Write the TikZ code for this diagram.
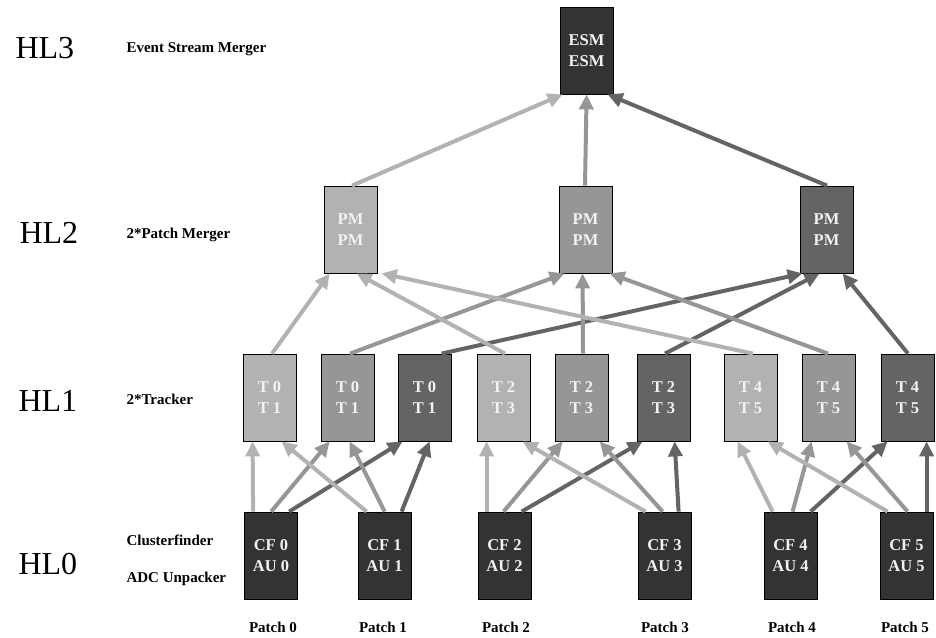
\documentclass[tikz,border=0pt]{standalone}
\usepackage{fontspec}
\setmainfont{Liberation Serif}
\usetikzlibrary{arrows.meta}
\definecolor{boxdark}{HTML}{333333}
\definecolor{glight}{HTML}{B2B2B2}
\definecolor{gmid}{HTML}{969696}
\definecolor{gdark}{HTML}{646464}
\definecolor{boxtext}{HTML}{F2F2F2}
\tikzset{
  unit/.style={draw=black, line width=0.8pt, rectangle, minimum width=53pt, minimum height=87pt,
    inner sep=0pt, align=center, text=boxtext, font=\fontsize{16.5}{21}\selectfont\bfseries},
  lvl/.style={anchor=base west, font=\fontsize{32}{32}\selectfont},
  desc/.style={anchor=base west, font=\fontsize{15}{15}\selectfont\bfseries},
  patch/.style={anchor=base, font=\fontsize{15}{15}\selectfont\bfseries},
  conn/.style={line width=4pt, -{Triangle[length=15pt,width=14pt]}},
  lt/.style={conn, draw=glight},
  md/.style={conn, draw=gmid},
  dk/.style={conn, draw=gdark}
}
\begin{document}
\begin{tikzpicture}[x=1pt,y=-1pt]
\useasboundingbox (0,0) rectangle (936,637);
% level labels
\node[lvl] (hl3) at (12,58) {HL3};
\node[lvl] (hl2) at (16,243) {HL2};
\node[lvl] (hl1) at (15,411) {HL1};
\node[lvl] (hl0) at (15,574) {HL0};
\node[desc] (d3) at (123,52) {Event Stream Merger};
\node[desc] (d2) at (123,238) {2*Patch Merger};
\node[desc] (d1) at (123,404) {2*Tracker};
\node[desc] (d0a) at (123,545) {Clusterfinder};
\node[desc] (d0b) at (123,582) {ADC Unpacker};
% boxes
\node[unit, fill=boxdark] (esm) at (586.5,50.5) {ESM\\ESM};
\node[unit, fill=glight] (pm1) at (350.5,229.5) {PM\\PM};
\node[unit, fill=gmid] (pm2) at (585.5,229.5) {PM\\PM};
\node[unit, fill=gdark] (pm3) at (826.5,229.5) {PM\\PM};
\node[unit, fill=glight] (t1) at (269.5,397.5) {T 0\\T 1};
\node[unit, fill=gmid] (t2) at (347.5,397.5) {T 0\\T 1};
\node[unit, fill=gdark] (t3) at (424.5,397.5) {T 0\\T 1};
\node[unit, fill=glight] (t4) at (503.5,397.5) {T 2\\T 3};
\node[unit, fill=gmid] (t5) at (581.5,397.5) {T 2\\T 3};
\node[unit, fill=gdark] (t6) at (663.5,397.5) {T 2\\T 3};
\node[unit, fill=glight] (t7) at (750.5,397.5) {T 4\\T 5};
\node[unit, fill=gmid] (t8) at (828.5,397.5) {T 4\\T 5};
\node[unit, fill=gdark] (t9) at (907.5,397.5) {T 4\\T 5};
\node[unit, fill=boxdark] (cf0) at (271,555.5) {CF 0\\AU 0};
\node[unit, fill=boxdark] (cf1) at (384.5,555.5) {CF 1\\AU 1};
\node[unit, fill=boxdark] (cf2) at (504.5,555.5) {CF 2\\AU 2};
\node[unit, fill=boxdark] (cf3) at (664.5,555.5) {CF 3\\AU 3};
\node[unit, fill=boxdark] (cf4) at (790.5,555.5) {CF 4\\AU 4};
\node[unit, fill=boxdark] (cf5) at (906.5,555.5) {CF 5\\AU 5};
% patch labels
\node[patch] (p0) at (273,632) {Patch 0};
\node[patch] (p1) at (383,632) {Patch 1};
\node[patch] (p2) at (506,632) {Patch 2};
\node[patch] (p3) at (665,632) {Patch 3};
\node[patch] (p4) at (792,632) {Patch 4};
\node[patch] (p5) at (905,632) {Patch 5};
% HL0 -> HL1
\draw[lt] ([xshift=9]cf0.north west) -- ([xshift=10]t1.south west);
\draw[md] ([xshift=27]cf0.north west) -- ([xshift=9]t2.south west);
\draw[dk] ([xshift=45]cf0.north west) -- ([xshift=5]t3.south west);
\draw[lt] ([xshift=9]cf1.north west) -- ([xshift=39]t1.south west);
\draw[md] ([xshift=27]cf1.north west) -- ([xshift=29]t2.south west);
\draw[dk] ([xshift=44]cf1.north west) -- ([xshift=32]t3.south west);
\draw[lt] ([xshift=9]cf2.north west) -- ([xshift=10]t4.south west);
\draw[md] ([xshift=26]cf2.north west) -- ([xshift=8]t5.south west);
\draw[dk] ([xshift=44]cf2.north west) -- ([xshift=6]t6.south west);
\draw[lt] ([xshift=8]cf3.north west) -- ([xshift=46]t4.south west);
\draw[md] ([xshift=25]cf3.north west) -- ([xshift=45]t5.south west);
\draw[dk] ([xshift=41]cf3.north west) -- ([xshift=38]t6.south west);
\draw[lt] ([xshift=9]cf4.north west) -- ([xshift=14]t7.south west);
\draw[md] ([xshift=29]cf4.north west) -- ([xshift=10]t8.south west);
\draw[dk] ([xshift=47]cf4.north west) -- ([xshift=7]t9.south west);
\draw[lt] ([xshift=8]cf5.north west) -- ([xshift=44]t7.south west);
\draw[md] ([xshift=28]cf5.north west) -- ([xshift=45]t8.south west);
\draw[dk] ([xshift=47]cf5.north west) -- ([xshift=46]t9.south west);
% HL1 -> HL2
\draw[lt] ([xshift=2.5]t1.north) -- ([xshift=6]pm1.south west);
\draw[md] ([xshift=2.5]t2.north) -- ([xshift=6]pm2.south west);
\draw[dk] ([xshift=44]t3.north west) -- ([xshift=3]pm3.south west);
\draw[lt] ([xshift=1.5]t4.north) -- ([xshift=33]pm1.south west);
\draw[md] ([xshift=1.5]t5.north) -- ([xshift=24]pm2.south west);
\draw[dk] ([xshift=1.5]t6.north) -- ([xshift=20]pm3.south west);
\draw[lt] ([xshift=2.5]t7.north) -- ([xshift=58]pm1.south west);
\draw[md] ([xshift=-0.5]t8.north) -- ([xshift=51]pm2.south west);
\draw[dk] ([xshift=0.5]t9.north) -- ([xshift=43]pm3.south west);
% HL2 -> HL3
\draw[lt] ([xshift=1.5]pm1.north) -- ([xshift=3]esm.south west);
\draw[md] ([xshift=-0.5]pm2.north) -- ([xshift=27]esm.south west);
\draw[dk] ([xshift=0.5]pm3.north) -- ([xshift=48]esm.south west);
\end{tikzpicture}
\end{document}
